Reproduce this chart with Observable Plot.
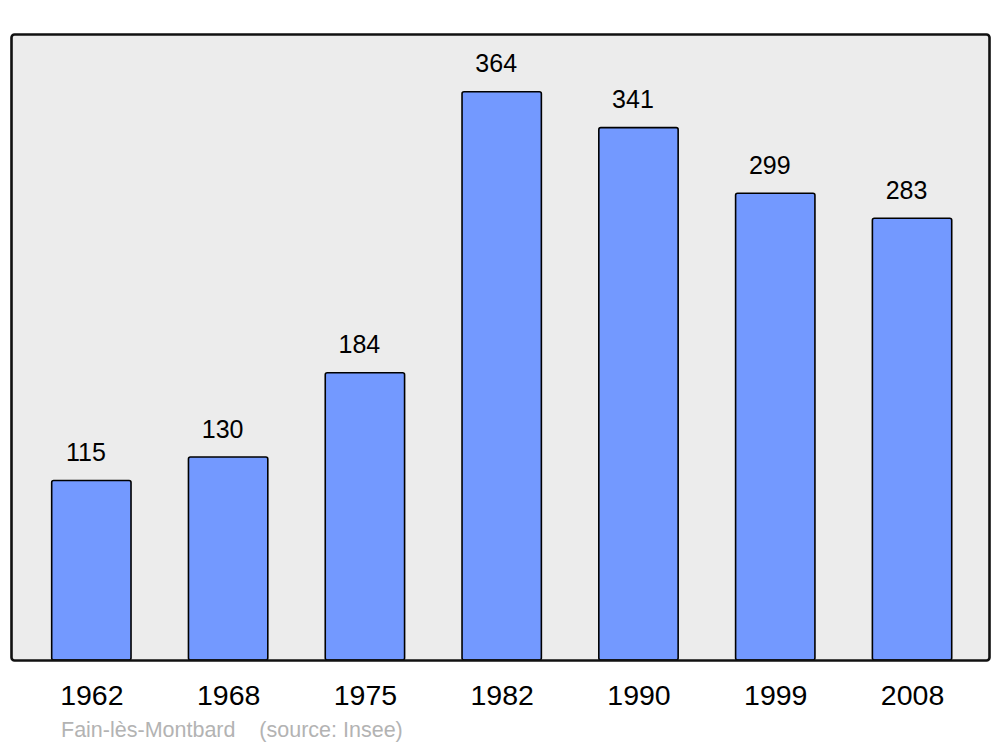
<!DOCTYPE html>
<html>
<head>
<meta charset="utf-8">
<script src="https://cdn.jsdelivr.net/npm/d3@7"></script>
<script src="https://cdn.jsdelivr.net/npm/@observablehq/plot@0.6"></script>
<style>
  body { margin: 0; background: #fff; font-family: "Liberation Sans", Arial, sans-serif; }
  #caption { height: 33px; line-height: 33px; padding-left: 61px; font-size: 21.5px; color: #b3b3b3; white-space: pre; }
</style>
</head>
<body>
<div id="chart"></div>
<div id="caption"></div>
<script>
const years = ["1962", "1968", "1975", "1982", "1990", "1999", "2008"];
const population = [115, 130, 184, 364, 341, 299, 283];
const commune = "Fain-lès-Montbard";
const source = "(source: Insee)";

const data = years.map((y, i) => ({year: y, value: population[i]}));

const chart = Plot.plot({
  width: 1000,
  height: 714,
  marginLeft: 11,
  marginRight: 11,
  marginTop: 34,
  marginBottom: 54,
  style: {fontFamily: "Liberation Sans, Arial, sans-serif", background: "#fff"},
  x: {domain: years, range: [12.7, 990.7], paddingInner: 0.42, paddingOuter: 0.285, round: false, label: null},
  y: {domain: [0, 401], axis: null},
  marks: [
    Plot.frame({fill: "#ececec", stroke: "none"}),
    Plot.barY(data, {x: "year", y: "value", fill: "#7399ff", stroke: "#000", strokeWidth: 1.6, rx: 2}),
    Plot.text(data, {x: "year", y: "value", text: d => String(d.value), dx: -6, dy: -28, fontSize: 25, fill: "#000"}),
    Plot.frame({fill: "none", stroke: "#111", strokeWidth: 2.6, rx: 3}),
    Plot.axisX({tickSize: 0, tickPadding: 24, fontSize: 28.5, color: "#000", label: null})
  ]
});
document.getElementById("chart").appendChild(chart);
document.getElementById("caption").textContent = commune + "    " + source;
</script>
</body>
</html>
